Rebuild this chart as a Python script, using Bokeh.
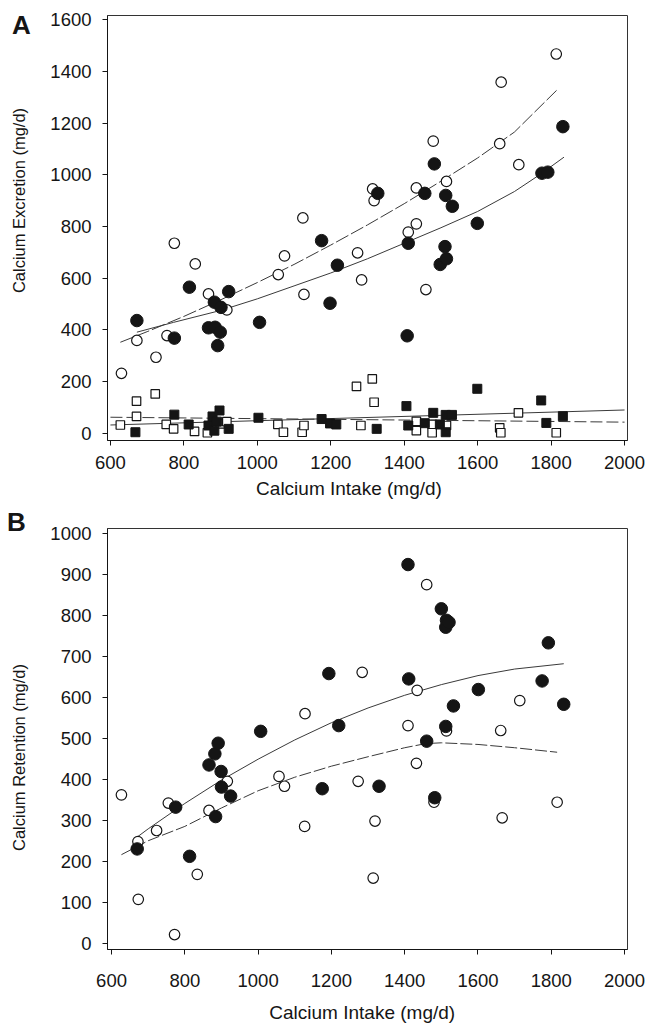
import math
from bokeh.plotting import figure
from bokeh.models import Label, FixedTicker, Range1d
from bokeh.layouts import column, row
from bokeh.embed import file_html
from bokeh.resources import INLINE

# ---------------- data ----------------
X_TICKS = [600, 800, 1000, 1200, 1400, 1600, 1800, 2000]
A_Y_TICKS = [0, 200, 400, 600, 800, 1000, 1200, 1400, 1600]
B_Y_TICKS = [0, 100, 200, 300, 400, 500, 600, 700, 800, 900, 1000]

# Panel A: calcium excretion, open circles
a_open_x = [630, 672, 724, 754, 774, 831, 867, 917, 1057, 1074, 1127, 1124, 1273, 1284,
            1314, 1318, 1411, 1433, 1433, 1459, 1479, 1515, 1660, 1664, 1712, 1814]
a_open_y = [232, 359, 294, 378, 735, 655, 539, 477, 614, 686, 537, 833, 698, 593,
            945, 900, 778, 810, 949, 556, 1130, 974, 1120, 1358, 1039, 1467]
# Panel A: filled circles
a_fill_x = [672, 774, 815, 867, 883, 885, 892, 899, 901, 922, 1006, 1175, 1198, 1218,
            1328, 1408, 1411, 1456, 1482, 1498, 1511, 1513, 1515, 1531, 1599, 1775, 1791, 1832]
a_fill_y = [436, 368, 565, 408, 507, 410, 339, 391, 487, 548, 429, 745, 503, 650,
            928, 377, 735, 928, 1042, 653, 722, 920, 675, 878, 812, 1006, 1010, 1186]
# Panel A: open squares
a_osq_x = [627, 671, 671, 722, 752, 772, 829, 864, 899, 917, 1056, 1071, 1122, 1127,
           1270, 1282, 1313, 1318, 1433, 1433, 1476, 1476, 1515, 1660, 1663, 1711, 1814]
a_osq_y = [32, 124, 65, 152, 34, 17, 7, 2, 36, 45, 34, 4, 4, 30,
           181, 30, 210, 120, 46, 10, 34, 2, 30, 21, 2, 79, 2]
# Panel A: filled squares
a_fsq_x = [668, 774, 813, 867, 878, 883, 890, 897, 922, 1003, 1175, 1198, 1215, 1325,
           1406, 1411, 1456, 1479, 1497, 1513, 1513, 1530, 1599, 1773, 1787, 1832]
a_fsq_y = [4, 72, 34, 30, 65, 10, 45, 88, 17, 60, 55, 38, 34, 17,
           105, 30, 39, 79, 34, 71, 4, 71, 172, 127, 40, 66]

# Panel A fitted curves
a_open_fit_x = [627, 700, 800, 900, 1000, 1100, 1200, 1300, 1400, 1500, 1600, 1700, 1816]
a_open_fit_y = [352, 393, 452, 516, 583, 653, 728, 806, 888, 975, 1065, 1165, 1328]
a_fill_fit_x = [672, 772, 900, 1000, 1100, 1200, 1300, 1400, 1500, 1600, 1700, 1769, 1835]
a_fill_fit_y = [391, 429, 475, 520, 570, 620, 675, 735, 795, 858, 935, 1000, 1068]
a_sq_fit_x = [600, 2000]
a_osq_fit_y = [62, 43]
a_fsq_fit_y = [32, 90]

# Panel B: calcium retention, open circles
b_open_x = [627, 672, 673, 723, 755, 772, 834, 866, 916, 1057, 1072, 1127, 1128, 1273,
            1284, 1314, 1319, 1409, 1432, 1434, 1460, 1480, 1514, 1662, 1666, 1714, 1816]
b_open_y = [362, 248, 107, 275, 342, 21, 168, 324, 395, 407, 383, 285, 560, 395,
            661, 159, 298, 531, 439, 617, 875, 344, 518, 519, 306, 592, 344]
# Panel B: filled circles
b_fill_x = [670, 775, 813, 866, 882, 884, 891, 899, 900, 925, 1007, 1175, 1193, 1220, 1330,
            1409, 1411, 1460, 1482, 1500, 1512, 1512, 1514, 1521, 1533, 1601, 1775, 1792, 1834]
b_fill_y = [230, 332, 212, 435, 462, 309, 488, 419, 381, 359, 517, 377, 658, 531, 383,
            924, 645, 493, 355, 816, 771, 529, 788, 783, 579, 619, 640, 733, 583]
# Panel B fitted curves
b_fill_fit_x = [670, 700, 800, 900, 1000, 1100, 1200, 1300, 1400, 1500, 1600, 1700, 1834]
b_fill_fit_y = [259, 279, 341, 398, 449, 496, 538, 574, 605, 631, 653, 669, 682]
b_open_fit_x = [627, 700, 800, 900, 1000, 1100, 1200, 1300, 1400, 1457, 1500, 1600, 1700, 1816]
b_open_fit_y = [216, 250, 285, 330, 372, 405, 432, 455, 477, 487, 489, 485, 477, 466]

# ---------------- styling ----------------
FONT = "Liberation Sans"
INK = "#151515"
LINE = "#3a3a3a"
STRIP_W = 40
MAIN_W = 607
PAGE_H = 1030
NB = "\u00a0"


def make_fig(h, xr, yr, borders, yticks, xlabel_std, xtitle, xtitle_std):
    left, top, right, bottom = borders
    p = figure(width=MAIN_W, height=h, x_range=Range1d(*xr), y_range=Range1d(*yr),
               output_backend="svg", toolbar_location=None,
               min_border_left=left, min_border_right=right,
               min_border_top=top, min_border_bottom=bottom)
    p.xgrid.visible = False
    p.ygrid.visible = False
    p.outline_line_color = "#333333"
    p.outline_line_width = 1
    p.background_fill_color = "white"
    p.border_fill_color = "white"
    for ax in (p.xaxis[0], p.yaxis[0]):
        ax.axis_line_color = INK
        ax.axis_line_width = 1
        ax.major_tick_line_color = INK
        ax.major_tick_out = 5
        ax.major_tick_in = 0
        ax.minor_tick_line_color = None
        ax.major_label_text_font = FONT
        ax.major_label_text_font_size = "18.5px"
        ax.major_label_text_color = INK
    p.xaxis.ticker = FixedTicker(ticks=X_TICKS)
    p.yaxis.ticker = FixedTicker(ticks=yticks)
    p.xaxis.major_label_standoff = xlabel_std
    p.yaxis.major_label_standoff = 11
    p.xaxis.axis_label = xtitle
    p.xaxis.axis_label_text_font = FONT
    p.xaxis.axis_label_text_font_size = "19px"
    p.xaxis.axis_label_text_font_style = "normal"
    p.xaxis.axis_label_text_color = INK
    p.xaxis.axis_label_standoff = xtitle_std
    return p


def open_circles(p, xs, ys):
    p.scatter(xs, ys, marker="circle", size=10.5, fill_color="white",
              line_color=INK, line_width=1.2)


def filled_circles(p, xs, ys):
    p.scatter(xs, ys, marker="circle", size=12.5, fill_color=INK,
              line_color=INK, line_width=1)


# ---------------- Panel A ----------------
pa = make_fig(504, (592, 2008), (-28, 1616), (67, 15, 19, 64), A_Y_TICKS,
              10, "Calcium Intake (mg/d)" + NB * 7, 6)
pa.line(a_sq_fit_x, a_osq_fit_y, line_color=LINE, line_width=1, line_dash="12 4")
pa.line(a_sq_fit_x, a_fsq_fit_y, line_color=LINE, line_width=1)
pa.scatter(a_osq_x, a_osq_y, marker="square", size=8.5, fill_color="white",
           line_color=INK, line_width=1.2)
pa.scatter(a_fsq_x, a_fsq_y, marker="square", size=9, fill_color=INK,
           line_color=INK, line_width=1)
pa.line(a_open_fit_x, a_open_fit_y, line_color=LINE, line_width=1, line_dash="14 3")
pa.line(a_fill_fit_x, a_fill_fit_y, line_color=LINE, line_width=1)
open_circles(pa, a_open_x, a_open_y)
filled_circles(pa, a_fill_x, a_fill_y)

# ---------------- Panel B ----------------
pb = make_fig(526, (589, 2008), (-15.4, 1012), (67, 24, 20, 81), B_Y_TICKS,
              19, "Calcium Intake (mg/d)" + NB * 2, 12)
pb.line(b_fill_fit_x, b_fill_fit_y, line_color=LINE, line_width=1)
pb.line(b_open_fit_x, b_open_fit_y, line_color=LINE, line_width=1, line_dash="12 3")
open_circles(pb, b_open_x, b_open_y)
filled_circles(pb, b_fill_x, b_fill_y)

# ---------------- left strip: panel letters and y titles ----------------
strip = figure(width=STRIP_W, height=PAGE_H, x_range=Range1d(0, STRIP_W),
               y_range=Range1d(PAGE_H, 0), output_backend="svg", toolbar_location=None,
               x_axis_location=None, y_axis_location=None,
               min_border_left=0, min_border_right=0, min_border_top=0, min_border_bottom=0)
strip.xgrid.visible = False
strip.ygrid.visible = False
strip.outline_line_color = None
strip.background_fill_color = "white"
strip.border_fill_color = "white"


def strip_text(x, y, text, size, angle=0.0, align="center", bold=False):
    strip.add_layout(Label(x=x, y=y, text=text, angle=angle, text_align=align,
                           text_baseline="middle", text_font=FONT, text_font_size=size,
                           text_color=INK, text_font_style="bold" if bold else "normal"))


strip_text(11.5, 24, "A", "26px", align="left", bold=True)
strip_text(18.5, 200, "Calcium Excretion (mg/d)", "16.5px", angle=math.pi / 2)
strip_text(6.5, 521, "B", "26px", align="left", bold=True)
strip_text(18.5, 757, "Calcium Retention (mg/d)", "16.5px", angle=math.pi / 2)

layout = row(strip, column(pa, pb, spacing=0), spacing=0)
open("out.html", "w").write(file_html(layout, INLINE))
